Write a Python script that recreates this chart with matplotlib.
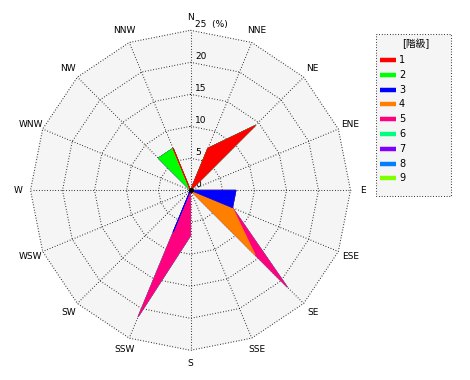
import numpy as np
import matplotlib
matplotlib.use("Agg")
import matplotlib.pyplot as plt
from matplotlib.patches import Rectangle

plt.rcParams['font.family'] = ['DejaVu Sans', 'Noto Sans CJK JP']

# --- datos (% por dirección y clase) ---
direcciones = ['N', 'NNE', 'NE', 'ENE', 'E', 'ESE', 'SE', 'SSE',
               'S', 'SSW', 'SW', 'WSW', 'W', 'WNW', 'NW', 'NNW']
clases = ['1', '2', '3', '4', '5', '6', '7', '8', '9']
colores = ['#ff0000', '#00ff00', '#0000ff', '#ff8000', '#ff0080',
           '#00ff80', '#8000ff', '#0080ff', '#80ff00']

clase1 = [0, 7.1, 14.3, 0, 0, 0, 0, 0, 0, 0, 0, 0, 0, 0, 0, 7.1]
clase2 = [0, 0, 0, 0, 0, 0, 0, 0, 0, 0, 0, 0, 0, 0, 7.1, 0]
clase3 = [0, 0, 0, 0, 7.1, 7.1, 0, 0, 0, 7.1, 0, 0, 0, 0, 0, 0]
clase4 = [0, 0, 0, 0, 0, 0, 14.3, 0, 0, 0, 0, 0, 0, 0, 0, 0]
clase5 = [0, 0, 0, 0, 0, 0, 7.1, 0, 7.1, 14.3, 0, 0, 0, 0, 0, 0]
clase6 = [0] * 16
clase7 = [0] * 16
clase8 = [0] * 16
clase9 = [0] * 16

anillos = [5, 10, 15, 20, 25]

# --- layout ---
W, H = 470, 380
CX, CY, PX = 190.5, 190.3, 6.4   # centro en px y px por unidad (%)

fig = plt.figure(figsize=(W / 100, H / 100), dpi=100)
ax = fig.add_axes([0, 0, 1, 1])
ax.set_xlim(-CX / PX, (W - CX) / PX)
ax.set_ylim(-(H - CY) / PX, CY / PX)
ax.axis('off')

ang = np.deg2rad(90 - 22.5 * np.arange(16))
cx, cy = np.cos(ang), np.sin(ang)

def cerrar(v):
    return np.append(v, v[0])

# fondo del área polar
rmax = anillos[-1]
ax.fill(cerrar(rmax * cx), cerrar(rmax * cy), color='#f5f5f5', zorder=0)

# rejilla punteada
estilo = dict(color='black', lw=0.75, linestyle=(0, (0.7, 1.9)), zorder=1)
for r in anillos:
    ax.plot(cerrar(r * cx), cerrar(r * cy), **estilo)
for i in range(16):
    ax.plot([0, rmax * cx[i]], [0, rmax * cy[i]], **estilo)

# etiquetas de anillos
for r in [0] + anillos:
    txt = f'{r}  (%)' if r == rmax else str(r)
    ax.text(0.7, r + 0.15, txt, fontsize=6.5, ha='left', va='bottom', zorder=2)

# etiquetas de dirección
for i, d in enumerate(direcciones):
    ax.text(27 * cx[i], 27 * cy[i], d, fontsize=6.5, ha='center', va='center')

# rosa apilada: de la clase mayor a la menor
valores = np.array([clase1, clase2, clase3, clase4, clase5,
                    clase6, clase7, clase8, clase9])
acum = np.cumsum(valores, axis=0)
for k in range(len(clases) - 1, -1, -1):
    r = acum[k]
    ax.fill(cerrar(r * cx), cerrar(r * cy), facecolor=colores[k],
            edgecolor=colores[k], lw=0.6, zorder=3)

ax.plot(0, 0, 'o', color='black', ms=2.5, zorder=5)

# leyenda
lx, ly, lw_, lh = 375, 33, 76, 163
lg = fig.add_axes([lx / W, 1 - (ly + lh) / H, lw_ / W, lh / H])
lg.set_xlim(0, lw_)
lg.set_ylim(lh, 0)
lg.axis('off')
lg.add_patch(Rectangle((0.5, 0.5), lw_ - 1, lh - 1, facecolor='#f5f5f5',
                       edgecolor='black', lw=0.75, linestyle=(0, (0.7, 1.9)),
                       clip_on=False))
lg.text(41, 11, '[階級]', fontsize=7, ha='center', va='center')
for k, (c, lab) in enumerate(zip(colores, clases)):
    y = 27 + k * 14.8
    lg.plot([5, 20.5], [y, y], color=c, lw=3.2, solid_capstyle='butt')
    lg.text(24, y, lab, fontsize=7, ha='left', va='center')

fig.savefig('out.png', dpi=100)
